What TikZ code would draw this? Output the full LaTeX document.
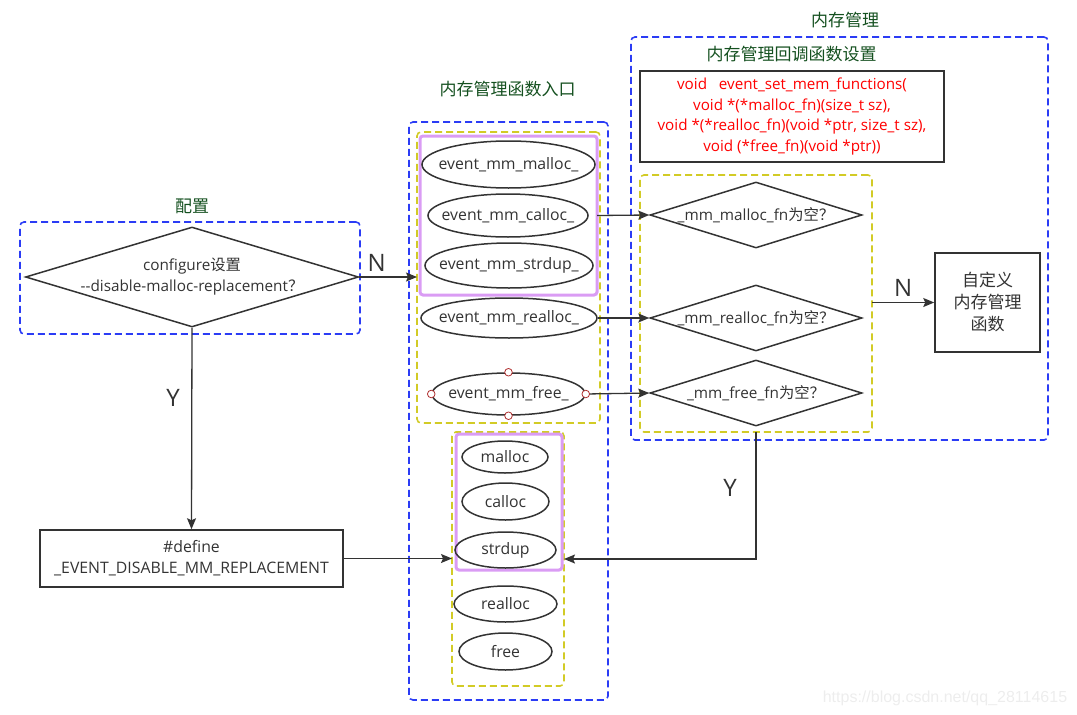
\documentclass[tikz,border=0pt]{standalone}
\usepackage{fontspec}
\setmainfont{Open Sans}
\newfontfamily\cjk{Noto Sans CJK SC}
\newfontfamily\markfont{Liberation Sans}
\usetikzlibrary{arrows.meta,positioning,shapes.geometric}
\definecolor{groupblue}{HTML}{2B3CF5}
\definecolor{groupyellow}{HTML}{D2CB26}
\definecolor{grouppurple}{HTML}{DA9CF4}
\definecolor{titlegreen}{HTML}{14501F}
\definecolor{linegray}{HTML}{333333}
\definecolor{handlered}{HTML}{B03030}
\tikzset{
        arr/.style = {-{Stealth[length=11pt,width=9pt,inset=2pt]}, line width=1.3pt, draw=linegray},
       base/.style = {draw=linegray, line width=1.5pt, text=linegray, align=center,
                      font=\fontsize{15.8}{21}\selectfont},
       func/.style = {base, ellipse, inner xsep=-14pt, inner ysep=0pt},   % entry / libc functions
        ask/.style = {base, diamond, inner sep=-6pt, aspect=3.2,
                      font=\fontsize{15.3}{21}\selectfont},  % decisions
        box/.style = {base, rectangle, inner sep=0pt},
      group/.style = {rectangle, inner sep=0pt, outer sep=0pt, rounded corners=4pt},
 blue group/.style = {group, draw=groupblue, line width=1.6pt, dash pattern=on 7pt off 4pt},
yellow group/.style = {group, draw=groupyellow, line width=1.6pt, dash pattern=on 7pt off 4pt},
purple group/.style = {group, draw=grouppurple, line width=3pt, rounded corners=3pt},
      title/.style = {font=\cjk\fontsize{17}{20}\selectfont, text=titlegreen},
     answer/.style = {font=\fontsize{24}{24}\selectfont, text=linegray},
     handle/.style = {draw=handlered, fill=white, line width=0.8pt},
}

\begin{document}
\begin{tikzpicture}[x=1pt,y=-1pt]
\useasboundingbox (0,0) rectangle (1077,715);

% groups
\node[blue group, minimum width=340pt, minimum height=112pt] (cfgGroup) at (190,278) {};
\node[blue group, minimum width=199pt, minimum height=578pt] (entryGroup) at (508.5,411) {};
\node[yellow group, minimum width=183pt, minimum height=291pt] (entryTop) at (508.5,277.5) {};
\node[purple group, minimum width=177pt, minimum height=159pt] (entryWrap) at (508.5,215.5) {};
\node[yellow group, minimum width=112pt, minimum height=254pt] (libGroup) at (508,559) {};
\node[purple group, minimum width=106pt, minimum height=136pt] (libWrap) at (509,502) {};
\node[blue group, minimum width=417pt, minimum height=403pt] (memGroup) at (839.5,238.5) {};
\node[yellow group, minimum width=232pt, minimum height=257pt] (checkGroup) at (756,303.5) {};

% titles
\node[title] (cfgTitle) at (192,206) {配置};
\node[title] (entryTitle) at (507.5,89) {内存管理函数入口};
\node[title] (memTitle) at (845,20) {内存管理};
\node[title] (setTitle) at (791.5,54) {内存管理回调函数设置};

% configure
\node[ask, aspect=3.33, minimum width=333pt, minimum height=100pt] (cfg) at (192,277)
  {configure{\cjk 设置}\\-{}-disable-malloc-replacement{\cjk ？}};
\node[box, minimum width=303pt, minimum height=57pt] (define) at (191.5,558.5)
  {\#define\\\_EVENT\_DISABLE\_MM\_REPLACEMENT};

% entry functions
\node[func, minimum width=173pt, minimum height=47pt] (mallocE) at (508.5,164.5) {event\_mm\_malloc\_};
\node[func, minimum width=160pt, minimum height=43pt] (callocE) at (508,215.5) {event\_mm\_calloc\_};
\node[func, minimum width=168pt, minimum height=45pt] (strdupE) at (509,265.5) {event\_mm\_strdup\_};
\node[func, minimum width=176pt, minimum height=40pt] (reallocE) at (509,318) {event\_mm\_realloc\_};
\node[func, minimum width=153pt, minimum height=42pt] (freeE) at (508.5,394) {event\_mm\_free\_};

% libc functions
\node[func, minimum width=86pt, minimum height=32pt] (mallocL) at (505,457) {malloc};
\node[func, minimum width=87pt, minimum height=37pt] (callocL) at (505.5,501.5) {calloc};
\node[func, minimum width=101pt, minimum height=36pt] (strdupL) at (505.5,550) {strdup};
\node[func, minimum width=103pt, minimum height=36pt] (reallocL) at (505.5,604) {realloc};
\node[func, minimum width=93pt, minimum height=37pt] (freeL) at (505.5,651.5) {free};

% callbacks
\node[box, minimum width=304pt, minimum height=91pt, text=red,
      font=\fontsize{15.2}{20.5}\selectfont] (setFns) at (792,116.5)
  {void\ \ \ event\_set\_mem\_functions(\\void *(*malloc\_fn)(size\_t sz),\\void *(*realloc\_fn)(void *ptr, size\_t sz),\\void (*free\_fn)(void *ptr))};
\node[ask, minimum width=212pt, minimum height=66pt] (askMalloc) at (756,215) {\_mm\_malloc\_fn{\cjk 为空？}};
\node[ask, minimum width=212pt, minimum height=66pt] (askRealloc) at (756,318) {\_mm\_realloc\_fn{\cjk 为空？}};
\node[ask, minimum width=212pt, minimum height=66pt] (askFree) at (756,393) {\_mm\_free\_fn{\cjk 为空？}};
\node[box, minimum width=105pt, minimum height=99pt, font=\cjk\fontsize{17}{22}\selectfont] (custom) at (987.5,302.5)
  {自定义\\内存管理\\函数};

% connectors
\draw[arr] (cfg.east) -- (cfg.east -| entryTop.west) node[answer, pos=0.3, above=2pt] (cfgN) {N};
\draw[arr] (cfg.south) -- (define.north) node[answer, pos=0.35, left=8pt] (cfgY) {Y};
\draw[arr] (define.east) -- (define.east -| libGroup.west);
\draw[arr] (entryWrap.east |- callocE.east) -- (askMalloc.west);
\draw[arr] (reallocE.east) -- (askRealloc.west);
\draw[arr] (freeE.east) -- (askFree.west);
\draw[arr] (checkGroup.east |- custom.west) -- (custom.west) node[answer, midway, above=2pt] (checkN) {N};
\draw[arr] (checkGroup.south) |- (libGroup.east);
\node[answer] (checkY) at (730,488) {Y};

% selection handles on event_mm_free_
\foreach \a in {north,south,east,west}
  \draw[handle] (freeE.\a) circle (3.8pt);

\node[font=\markfont\fontsize{16}{16}\selectfont, text=black!7] (mark) at (945,698) {https://blog.csdn.net/qq\_28114615};
\end{tikzpicture}
\end{document}
